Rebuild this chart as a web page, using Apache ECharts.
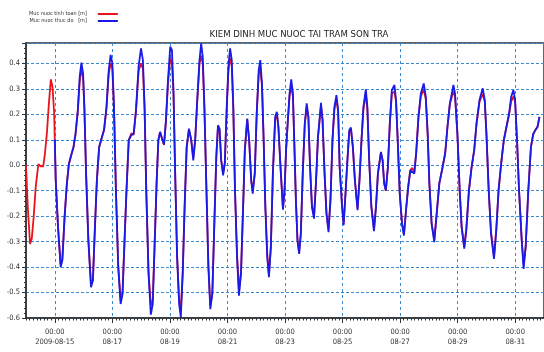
<!DOCTYPE html>
<html><head><meta charset="utf-8">
<script src="https://cdn.jsdelivr.net/npm/echarts@6/dist/echarts.min.js"></script>
<style>html,body{margin:0;padding:0;background:#fff}#c{width:544px;height:352px}</style>
</head><body><div id="c"></div>
<script>
const chartTitle = 'KIEM DINH MUC NUOC TAI TRAM SON TRA';
const seriesNames = ['Muc nuoc tinh toan [m]', 'Muc nuoc thuc do   [m]'];
// x = hours since 2009-08-14 00:00
const xRange = [0, 432];
const labelHours = [24, 72, 120, 168, 216, 264, 312, 360, 408];
const labelTime = '00:00';
const labelDates = ['2009-08-15', '08-17', '08-19', '08-21', '08-23', '08-25', '08-27', '08-29', '08-31'];
const yRange = [-0.6, 0.48];

const timeHours = [
0,1.5,3.4,4.8,6.4,8.1,10.3,12.2,14.4,15.8,17.4,19.1,20.7,22.1,23.5,24.0,
24.8,26.7,28.9,30.3,32.2,34.1,35.8,37.7,39.6,41.3,43.2,44.8,46.2,47.6,48.7,50.1,52.0,54.2,55.8,57.5,59.1,
61.0,63.0,65.1,67.1,69.0,70.6,72.0,73.4,75.0,76.9,78.9,80.5,82.2,83.8,85.7,87.9,89.8,91.7,93.9,95.9,97.5,98.9,
100.3,102.2,104.1,105.7,107.4,109.0,110.4,111.8,113.4,115.1,116.7,118.4,120.3,121.7,123.0,124.4,126.0,127.7,129.1,
130.7,132.3,134.0,135.9,137.8,139.5,141.1,142.8,144.7,146.1,147.4,148.8,150.5,152.1,153.7,155.4,157.0,158.7,
160.1,161.4,162.8,164.4,165.8,167.4,168.8,170.2,171.6,172.9,174.3,176.0,177.6,179.3,180.9,182.5,184.5,186.1,
187.8,189.1,190.8,192.4,194.1,195.4,196.8,198.2,199.6,201.2,202.6,204.2,205.9,207.8,209.2,210.5,212.2,214.3,
215.6,216.9,218.2,219.8,221.2,222.6,223.7,225.1,226.4,227.8,229.2,230.8,232.5,234.1,235.5,236.9,238.5,240.2,
241.8,243.5,246.0,247.3,249.0,250.6,252.3,253.9,255.6,257.2,258.9,260.3,261.6,263.6,264.9,266.6,268.2,269.6,
271.0,272.6,274.3,276.5,278.1,279.8,281.4,283.4,284.7,286.1,288.0,290.2,291.9,293.5,296.0,297.4,298.7,300.1,
301.8,303.4,305.1,307.3,308.6,310.0,311.7,313.6,315.2,317.2,318.8,320.5,322.1,323.8,325.4,327.3,329.3,331.7,
333.4,335.0,336.4,338.3,340.5,342.5,344.7,347.4,349.6,351.5,353.5,356.5,357.8,359.8,361.7,363.3,365.5,367.2,
369.4,371.6,373.8,375.7,378.2,380.9,382.6,384.0,385.9,387.8,390.3,392.2,394.1,396.3,398.5,400.7,402.9,404.6,
406.5,407.9,409.5,411.2,413.4,415.0,416.7,418.9,421.1,423.0,424.9,426.6,428.2
];

// computed (red)
const computedLevel = [
0.0,-0.164,-0.309,-0.289,-0.204,-0.086,0.004,-0.004,-0.004,0.046,0.124,0.243,0.337,0.308,0.203,0.10,
-0.06,-0.24,-0.39,-0.37,-0.20,-0.07,0.006,0.04,0.07,0.12,0.21,0.33,0.375,0.345,0.22,-0.03,-0.29,-0.465,-0.45,-0.24,-0.06,
0.07,0.105,0.14,0.22,0.36,0.40,0.38,0.22,-0.10,-0.39,-0.53,-0.50,-0.29,-0.10,0.10,0.125,0.12,0.21,0.37,0.40,0.38,0.22,
-0.10,-0.42,-0.55,-0.53,-0.29,-0.06,0.10,0.13,0.105,0.08,0.17,0.32,0.42,0.40,0.28,-0.03,-0.35,-0.53,-0.57,
-0.42,-0.16,0.07,0.14,0.10,0.03,0.10,0.25,0.40,0.43,0.40,0.22,-0.10,-0.39,-0.55,-0.50,-0.24,0.03,
0.15,0.14,0.02,-0.03,0.01,0.22,0.37,0.42,0.39,0.22,-0.10,-0.35,-0.49,-0.42,-0.19,0.06,0.18,0.10,
-0.06,-0.10,-0.03,0.20,0.36,0.38,0.31,0.10,-0.16,-0.35,-0.43,-0.32,-0.03,0.18,0.20,0.15,0.00,-0.17,
-0.10,0.06,0.16,0.27,0.31,0.27,0.10,-0.14,-0.29,-0.34,-0.27,-0.03,0.16,0.23,0.19,-0.01,-0.16,-0.20,
-0.07,0.11,0.23,0.18,-0.03,-0.19,-0.25,-0.14,0.10,0.22,0.26,0.21,-0.01,-0.16,-0.23,-0.10,0.03,0.13,
0.14,0.07,-0.06,-0.17,-0.06,0.10,0.22,0.28,0.22,0.03,-0.16,-0.25,-0.16,-0.03,0.05,0.02,-0.07,-0.10,
-0.01,0.16,0.28,0.29,0.25,0.10,-0.11,-0.23,-0.27,-0.16,-0.08,-0.02,-0.01,-0.03,0.05,0.19,0.27,0.30,
0.26,0.12,-0.07,-0.23,-0.29,-0.19,-0.07,-0.01,0.05,0.15,0.24,0.29,0.27,0.12,-0.10,-0.24,-0.32,-0.25,
-0.10,-0.01,0.06,0.16,0.25,0.28,0.25,0.12,-0.10,-0.26,-0.36,-0.25,-0.10,0.01,0.10,0.15,0.20,0.25,
0.27,0.25,0.10,-0.10,-0.29,-0.39,-0.32,-0.10,0.07,0.12,0.14,0.15,0.19
];

// measured (blue), starts 2009-08-15 00:00
const measuredLevel = [
null,null,null,null,null,null,null,null,null,null,null,null,null,null,null,0.10,
-0.059,-0.243,-0.400,-0.374,-0.204,-0.072,0.006,0.039,0.072,0.124,0.216,0.348,0.403,0.361,0.229,-0.033,-0.296,-0.479,-0.453,-0.243,-0.059,
0.072,0.105,0.138,0.229,0.374,0.433,0.400,0.229,-0.099,-0.400,-0.545,-0.506,-0.296,-0.099,0.098,0.118,0.124,0.216,0.387,0.459,0.413,0.229,
-0.099,-0.427,-0.587,-0.545,-0.296,-0.059,0.098,0.131,0.105,0.082,0.177,0.334,0.466,0.452,0.295,-0.033,-0.361,-0.545,-0.597,
-0.427,-0.164,0.072,0.144,0.098,0.019,0.098,0.256,0.413,0.479,0.426,0.229,-0.099,-0.400,-0.565,-0.506,-0.243,0.033,
0.157,0.144,0.019,-0.040,0.006,0.229,0.387,0.459,0.413,0.229,-0.099,-0.361,-0.512,-0.427,-0.191,0.059,0.183,0.098,
-0.059,-0.112,-0.033,0.203,0.374,0.413,0.321,0.098,-0.164,-0.361,-0.440,-0.322,-0.033,0.190,0.210,0.151,-0.004,-0.175,
-0.100,0.060,0.164,0.282,0.337,0.282,0.098,-0.138,-0.296,-0.348,-0.269,-0.033,0.164,0.243,0.190,-0.007,-0.164,-0.210,
-0.072,0.111,0.245,0.177,-0.033,-0.191,-0.263,-0.138,0.098,0.229,0.275,0.216,-0.007,-0.164,-0.236,-0.099,0.033,0.138,
0.148,0.072,-0.059,-0.177,-0.059,0.098,0.229,0.298,0.229,0.033,-0.164,-0.259,-0.164,-0.033,0.052,0.019,-0.072,-0.099,
-0.007,0.164,0.295,0.315,0.256,0.098,-0.112,-0.230,-0.276,-0.164,-0.086,-0.020,-0.013,-0.033,0.046,0.190,0.282,0.321,
0.269,0.124,-0.072,-0.230,-0.302,-0.191,-0.072,-0.007,0.046,0.151,0.243,0.315,0.282,0.124,-0.099,-0.243,-0.328,-0.256,
-0.099,-0.007,0.059,0.164,0.256,0.302,0.256,0.124,-0.099,-0.269,-0.368,-0.256,-0.099,0.006,0.098,0.151,0.203,0.269,
0.295,0.256,0.098,-0.099,-0.296,-0.407,-0.322,-0.099,0.072,0.124,0.138,0.151,0.190
];

const FONT = "'Liberation Sans Narrow', 'DejaVu Sans Condensed', 'Liberation Sans', Arial, sans-serif";
const GRIDC = '#3a8ad2';

const chart = echarts.init(document.getElementById('c'), null, {renderer: 'canvas'});
chart.setOption({
  animation: false,
  backgroundColor: '#fff',
  textStyle: {fontFamily: FONT},
  title: {
    text: chartTitle, left: 294, top: 25, textAlign: 'center',
    textStyle: {fontSize: 9.5, fontWeight: 'normal', color: '#222', fontFamily: FONT}
  },
  legend: {
    left: 24, top: 6, orient: 'vertical', align: 'right',
    itemWidth: 20, itemHeight: 2, itemGap: 1, icon: 'rect',
    textStyle: {fontSize: 5.5, color: '#333', fontFamily: FONT, lineHeight: 6, padding: [0, 6, 0, 0]},
    data: seriesNames
  },
  grid: {left: 26, top: 43, right: -6, bottom: 34, show: true, borderColor: '#333', borderWidth: 1.5, backgroundColor: 'transparent'},
  xAxis: [
    {
      type: 'value', min: xRange[0], max: xRange[1], interval: 3, position: 'bottom',
      axisLine: {show: true, onZero: false, lineStyle: {color: '#333', width: 1.5}},
      axisTick: {show: true, length: 2.5, lineStyle: {color: '#333'}},
      axisLabel: {show: false},
      splitLine: {show: false}
    },
    {
      type: 'value', min: xRange[0], max: xRange[1], position: 'bottom',
      axisLine: {show: false, onZero: false},
      axisTick: {show: true, length: 5, customValues: labelHours, lineStyle: {color: '#333'}},
      axisLabel: {
        show: true, customValues: labelHours, margin: 9, fontSize: 7.5, color: '#333', lineHeight: 10, fontFamily: FONT,
        formatter: function (v) {
          const i = labelHours.indexOf(Math.round(v));
          return i < 0 ? '' : labelTime + '\n' + labelDates[i];
        }
      },
      splitLine: {show: true, lineStyle: {color: GRIDC, width: 1, type: [3, 3]}}
    }
  ],
  yAxis: {
    type: 'value', min: yRange[0], max: yRange[1], interval: 0.1,
    axisLine: {show: true, onZero: false, lineStyle: {color: '#333', width: 1.5}},
    axisTick: {show: true, length: 4, lineStyle: {color: '#333'}},
    minorTick: {show: true, splitNumber: 5, length: 2, lineStyle: {color: '#333'}},
    axisLabel: {
      margin: 6, fontSize: 7.5, color: '#333', fontFamily: FONT,
      formatter: function (v) { return Math.abs(v - yRange[1]) < 1e-6 ? '' : v.toFixed(1); }
    },
    splitLine: {show: true, lineStyle: {color: GRIDC, width: 1, type: [3, 2]}}
  },
  series: [
    {
      name: seriesNames[0], type: 'line', xAxisIndex: 0, showSymbol: false, symbol: 'none',
      lineStyle: {color: '#e8141c', width: 1.8}, itemStyle: {color: '#e8141c'},
      data: timeHours.map((h, i) => [h, computedLevel[i]]), z: 3
    },
    {
      name: seriesNames[1], type: 'line', xAxisIndex: 0, showSymbol: false, symbol: 'none',
      lineStyle: {color: '#1a1ae6', width: 1.8}, itemStyle: {color: '#1a1ae6'},
      data: timeHours.map((h, i) => [h, measuredLevel[i]]), z: 4
    }
  ]
});
</script></body></html>
